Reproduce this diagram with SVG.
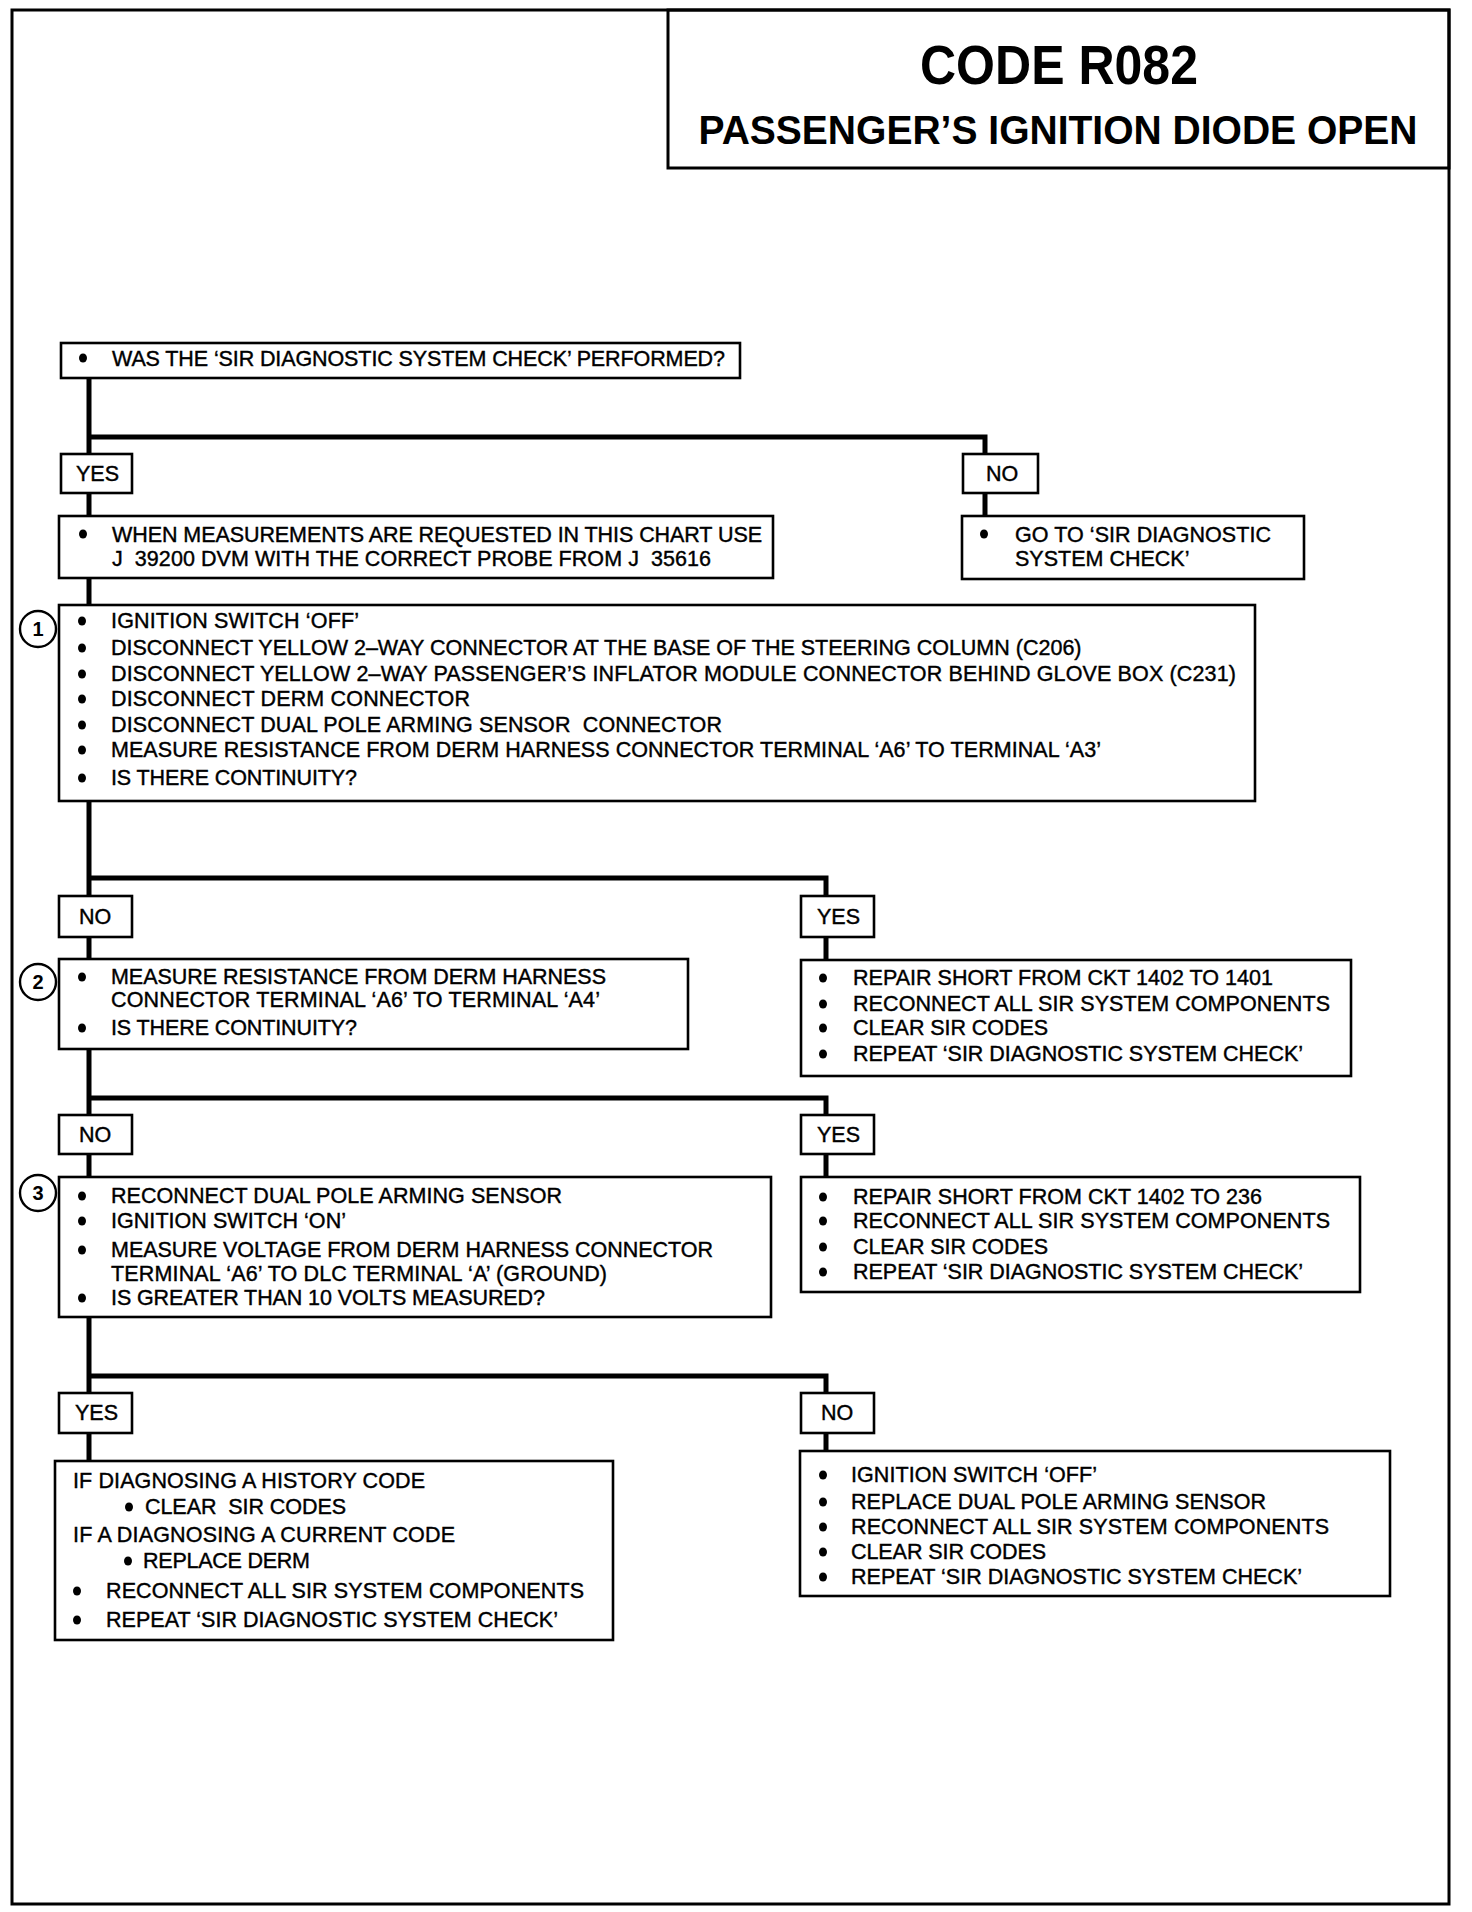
<svg xmlns="http://www.w3.org/2000/svg" width="1472" height="1912" viewBox="0 0 1472 1912">
<style>
.bg{fill:#fff}
.frame{fill:none;stroke:#000;stroke-width:3}
.box{fill:#fff;stroke:#000;stroke-width:2.6}
.lbl{fill:#fff;stroke:#000;stroke-width:2.6}
.wire{fill:none;stroke:#000;stroke-width:5}
.t{font-family:"Liberation Sans",Arial,Helvetica,sans-serif;font-size:21.5px;fill:#000;stroke:#000;stroke-width:0.4;white-space:pre}
.h{font-family:"Liberation Sans",Arial,Helvetica,sans-serif;font-weight:bold;fill:#000;text-anchor:middle}
.num{font-family:"Liberation Sans",Arial,sans-serif;font-size:20px;font-weight:bold;text-anchor:middle;fill:#000}
.circ{fill:#fff;stroke:#000;stroke-width:2.4}
</style>
<defs>
<ellipse id="b" rx="4" ry="4.5" fill="#000"/>
</defs>
<rect class="bg" x="0" y="0" width="1472" height="1912"/>
<rect class="frame" x="12" y="10" width="1437" height="1894"/>

<g id="title">
<rect class="frame" x="668" y="10" width="781" height="158"/>
<text class="h" x="1059" y="84" font-size="55" textLength="278" lengthAdjust="spacingAndGlyphs">CODE R082</text>
<text class="h" x="1058" y="144" font-size="40" textLength="719" lengthAdjust="spacingAndGlyphs">PASSENGER’S IGNITION DIODE OPEN</text>
</g>

<g id="connectors">
<path class="wire" d="M89 378 V1461"/>
<path class="wire" d="M89 437 H985 V516"/>
<path class="wire" d="M89 878 H826 V960"/>
<path class="wire" d="M89 1098 H826 V1177"/>
<path class="wire" d="M89 1376 H826 V1451"/>
</g>

<g id="n0">
<rect class="box" x="61" y="343" width="679" height="35"/>
<use href="#b" x="83" y="358"/>
<text class="t" x="112" y="366" textLength="613">WAS THE ‘SIR DIAGNOSTIC SYSTEM CHECK’ PERFORMED?</text>
</g>

<g id="yes0">
<rect class="lbl" x="61" y="454" width="71" height="39"/>
<text class="t" x="76" y="481">YES</text>
</g>
<g id="no0">
<rect class="lbl" x="963" y="454" width="75" height="39"/>
<text class="t" x="986" y="481">NO</text>
</g>

<g id="n_meas">
<rect class="box" x="59" y="516" width="714" height="62"/>
<use href="#b" x="83" y="534"/>
<text class="t" x="112" y="542" textLength="650">WHEN MEASUREMENTS ARE REQUESTED IN THIS CHART USE</text>
<text class="t" x="112" y="566" textLength="599">J  39200 DVM WITH THE CORRECT PROBE FROM J  35616</text>
</g>

<g id="n_goto">
<rect class="box" x="962" y="516" width="342" height="63"/>
<use href="#b" x="984" y="534"/>
<text class="t" x="1015" y="542" textLength="256">GO TO ‘SIR DIAGNOSTIC</text>
<text class="t" x="1015" y="566">SYSTEM CHECK’</text>
</g>

<g id="n1">
<rect class="box" x="59" y="605" width="1196" height="196"/>
<circle class="circ" cx="38" cy="629" r="18"/>
<text class="num" x="38" y="636">1</text>
<use href="#b" x="82" y="621"/>
<text class="t" x="111" y="628" textLength="248">IGNITION SWITCH ‘OFF’</text>
<use href="#b" x="82" y="648"/>
<text class="t" x="111" y="655">DISCONNECT YELLOW 2–WAY CONNECTOR AT THE BASE OF THE STEERING COLUMN (C206)</text>
<use href="#b" x="82" y="674"/>
<text class="t" x="111" y="681" textLength="1125">DISCONNECT YELLOW 2–WAY PASSENGER’S INFLATOR MODULE CONNECTOR BEHIND GLOVE BOX (C231)</text>
<use href="#b" x="82" y="699"/>
<text class="t" x="111" y="706" textLength="359">DISCONNECT DERM CONNECTOR</text>
<use href="#b" x="82" y="725"/>
<text class="t" x="111" y="732" textLength="611">DISCONNECT DUAL POLE ARMING SENSOR  CONNECTOR</text>
<use href="#b" x="82" y="750"/>
<text class="t" x="111" y="757" textLength="990">MEASURE RESISTANCE FROM DERM HARNESS CONNECTOR TERMINAL ‘A6’ TO TERMINAL ‘A3’</text>
<use href="#b" x="82" y="778"/>
<text class="t" x="111" y="785" textLength="246">IS THERE CONTINUITY?</text>
</g>

<g id="no1">
<rect class="lbl" x="59" y="896" width="73" height="41"/>
<text class="t" x="79" y="924">NO</text>
</g>
<g id="yes1">
<rect class="lbl" x="801" y="896" width="73" height="41"/>
<text class="t" x="817" y="924">YES</text>
</g>

<g id="n2">
<rect class="box" x="59" y="959" width="629" height="90"/>
<circle class="circ" cx="38" cy="982" r="18"/>
<text class="num" x="38" y="989">2</text>
<use href="#b" x="82" y="977"/>
<text class="t" x="111" y="984" textLength="495">MEASURE RESISTANCE FROM DERM HARNESS</text>
<text class="t" x="111" y="1007" textLength="489">CONNECTOR TERMINAL ‘A6’ TO TERMINAL ‘A4’</text>
<use href="#b" x="82" y="1028"/>
<text class="t" x="111" y="1035" textLength="246">IS THERE CONTINUITY?</text>
</g>

<g id="n2y">
<rect class="box" x="801" y="960" width="550" height="116"/>
<use href="#b" x="823" y="978"/>
<text class="t" x="853" y="985" textLength="420">REPAIR SHORT FROM CKT 1402 TO 1401</text>
<use href="#b" x="823" y="1004"/>
<text class="t" x="853" y="1011" textLength="477">RECONNECT ALL SIR SYSTEM COMPONENTS</text>
<use href="#b" x="823" y="1028"/>
<text class="t" x="853" y="1035" textLength="195">CLEAR SIR CODES</text>
<use href="#b" x="823" y="1054"/>
<text class="t" x="853" y="1061" textLength="450">REPEAT ‘SIR DIAGNOSTIC SYSTEM CHECK’</text>
</g>

<g id="no2">
<rect class="lbl" x="59" y="1115" width="73" height="39"/>
<text class="t" x="79" y="1142">NO</text>
</g>
<g id="yes2">
<rect class="lbl" x="801" y="1115" width="73" height="39"/>
<text class="t" x="817" y="1142">YES</text>
</g>

<g id="n3">
<rect class="box" x="59" y="1177" width="712" height="140"/>
<circle class="circ" cx="38" cy="1193" r="18"/>
<text class="num" x="38" y="1200">3</text>
<use href="#b" x="82" y="1196"/>
<text class="t" x="111" y="1203" textLength="451">RECONNECT DUAL POLE ARMING SENSOR</text>
<use href="#b" x="82" y="1221"/>
<text class="t" x="111" y="1228" textLength="235">IGNITION SWITCH ‘ON’</text>
<use href="#b" x="82" y="1250"/>
<text class="t" x="111" y="1257" textLength="602">MEASURE VOLTAGE FROM DERM HARNESS CONNECTOR</text>
<text class="t" x="111" y="1281" textLength="496">TERMINAL ‘A6’ TO DLC TERMINAL ‘A’ (GROUND)</text>
<use href="#b" x="82" y="1298"/>
<text class="t" x="111" y="1305" textLength="434">IS GREATER THAN 10 VOLTS MEASURED?</text>
</g>

<g id="n3y">
<rect class="box" x="801" y="1177" width="559" height="115"/>
<use href="#b" x="823" y="1197"/>
<text class="t" x="853" y="1204" textLength="409">REPAIR SHORT FROM CKT 1402 TO 236</text>
<use href="#b" x="823" y="1221"/>
<text class="t" x="853" y="1228" textLength="477">RECONNECT ALL SIR SYSTEM COMPONENTS</text>
<use href="#b" x="823" y="1247"/>
<text class="t" x="853" y="1254" textLength="195">CLEAR SIR CODES</text>
<use href="#b" x="823" y="1272"/>
<text class="t" x="853" y="1279" textLength="450">REPEAT ‘SIR DIAGNOSTIC SYSTEM CHECK’</text>
</g>

<g id="yes3">
<rect class="lbl" x="59" y="1393" width="73" height="40"/>
<text class="t" x="75" y="1420">YES</text>
</g>
<g id="no3">
<rect class="lbl" x="801" y="1393" width="73" height="40"/>
<text class="t" x="821" y="1420">NO</text>
</g>

<g id="n4l">
<rect class="box" x="55" y="1461" width="558" height="179"/>
<text class="t" x="73" y="1488" textLength="352">IF DIAGNOSING A HISTORY CODE</text>
<use href="#b" x="129" y="1507"/>
<text class="t" x="145" y="1514" textLength="201">CLEAR  SIR CODES</text>
<text class="t" x="73" y="1542" textLength="382">IF A DIAGNOSING A CURRENT CODE</text>
<use href="#b" x="128" y="1561"/>
<text class="t" x="143" y="1568" textLength="167">REPLACE DERM</text>
<use href="#b" x="77" y="1591"/>
<text class="t" x="106" y="1598" textLength="478">RECONNECT ALL SIR SYSTEM COMPONENTS</text>
<use href="#b" x="77" y="1620"/>
<text class="t" x="106" y="1627" textLength="452">REPEAT ‘SIR DIAGNOSTIC SYSTEM CHECK’</text>
</g>

<g id="n4r">
<rect class="box" x="800" y="1451" width="590" height="145"/>
<use href="#b" x="823" y="1475"/>
<text class="t" x="851" y="1482" textLength="246">IGNITION SWITCH ‘OFF’</text>
<use href="#b" x="823" y="1502"/>
<text class="t" x="851" y="1509" textLength="415">REPLACE DUAL POLE ARMING SENSOR</text>
<use href="#b" x="823" y="1527"/>
<text class="t" x="851" y="1534" textLength="478">RECONNECT ALL SIR SYSTEM COMPONENTS</text>
<use href="#b" x="823" y="1552"/>
<text class="t" x="851" y="1559" textLength="195">CLEAR SIR CODES</text>
<use href="#b" x="823" y="1577"/>
<text class="t" x="851" y="1584" textLength="451">REPEAT ‘SIR DIAGNOSTIC SYSTEM CHECK’</text>
</g>
</svg>
